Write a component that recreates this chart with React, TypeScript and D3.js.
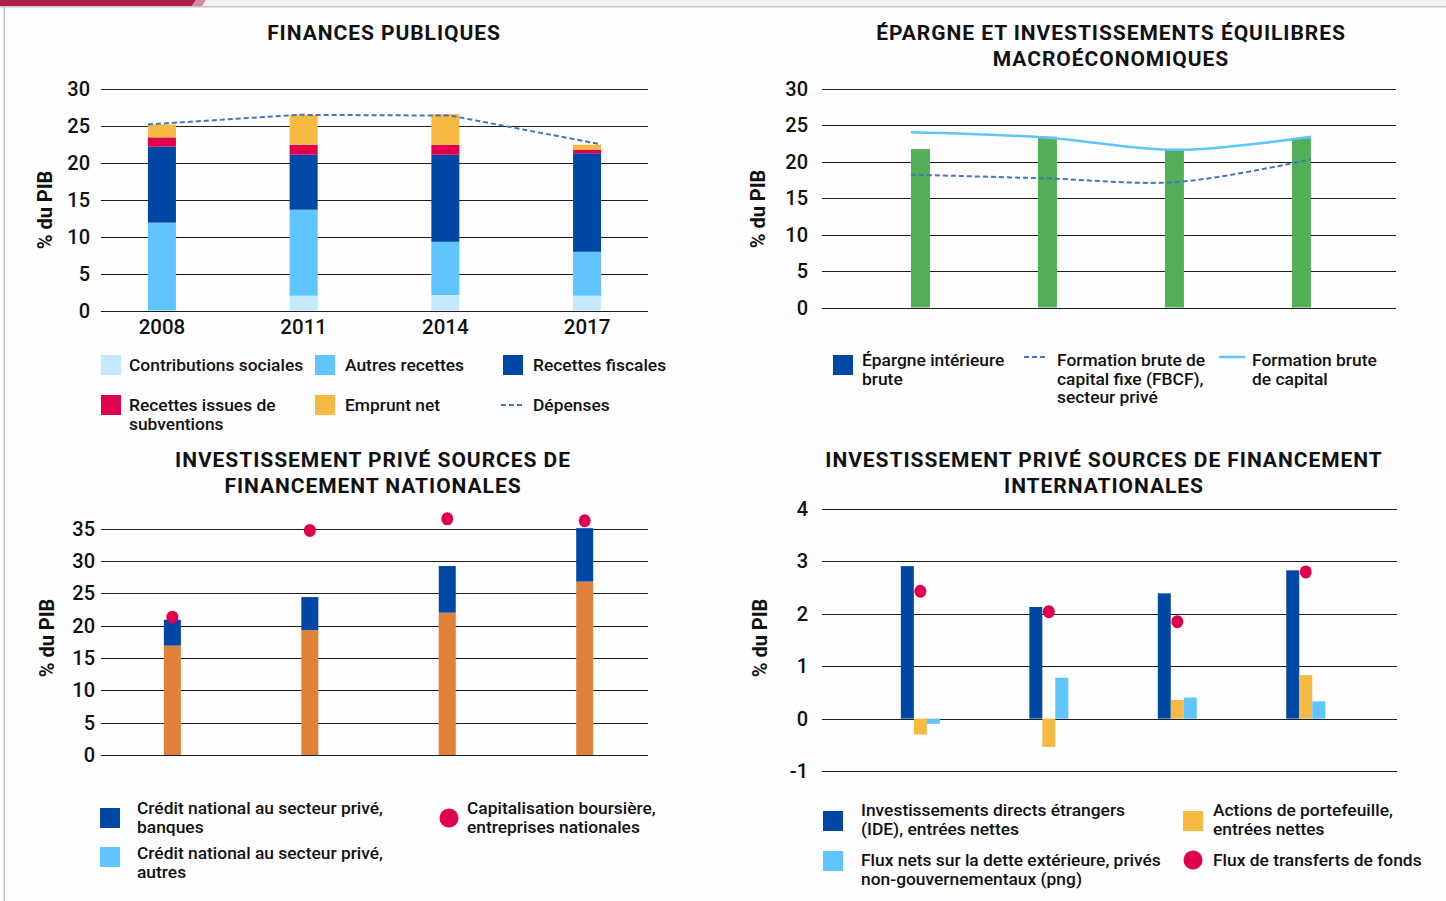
import React from 'react';
import * as d3 from 'd3';

const W = 1446;
const H = 901;
const FONT = 'Roboto, "Noto Sans", sans-serif';

// ---- Chart 1 : Finances publiques ----
const years = ['2008', '2011', '2014', '2017'];
const contributionsSociales = [0, 2.0, 2.1, 2.0];
const autresRecettes = [11.9, 11.65, 7.2, 5.95];
const recettesFiscales = [10.3, 7.45, 11.8, 13.35];
const recettesSubventions = [1.25, 1.35, 1.35, 0.5];
const empruntNet = [1.75, 4.05, 4.15, 0.65];
const depenses = [25.2, 26.5, 26.4, 22.5];
const ticks30 = [0, 5, 10, 15, 20, 25, 30];

// ---- Chart 2 : Épargne et investissements ----
const epargneInterieure = [21.7, 23.4, 21.6, 23.2];
const fbcfPrive = [18.2, 17.7, 17.2, 20.3];
const formationBruteCapital = [24.0, 23.3, 21.6, 23.4];

// ---- Chart 3 : sources nationales ----
const creditAutres = [16.9, 19.3, 22.0, 26.8];
const creditBanques = [4.0, 5.1, 7.2, 8.25];
const capitalisation = [21.3, 34.7, 36.5, 36.2];
const ticks35 = [0, 5, 10, 15, 20, 25, 30, 35];

// ---- Chart 4 : sources internationales ----
const ide = [2.91, 2.13, 2.39, 2.83];
const actionsPortefeuille = [-0.305, -0.54, 0.355, 0.83];
const fluxDette = [-0.1, 0.78, 0.4, 0.33];
const transferts = [2.43, 2.04, 1.85, 2.8];
const ticksIntl = [-1, 0, 1, 2, 3, 4];

const C = {
  contrib: '#c4e8fc',
  autres: '#60c5ff',
  fiscal: '#0047a6',
  subv: '#e0004d',
  emprunt: '#f6b942',
  dash: '#4472c4',
  green: '#53ae58',
  orange: '#e0813a',
  grid: '#1e1e1e',
  text: '#111111',
};

type LegendProps = {
  kind: 'rect' | 'dash' | 'line' | 'dot';
  color: string;
  sx: number;
  sy: number;
  tx: number;
  ty: number;
  lines: string[];
  lh?: number;
};

function Legend({ kind, color, sx, sy, tx, ty, lines, lh = 18.5 }: LegendProps) {
  let sw: React.ReactNode = null;
  if (kind === 'rect') sw = <rect x={sx} y={sy - 10} width={20} height={20} fill={color} />;
  if (kind === 'dash')
    sw = <line x1={sx} x2={sx + 23} y1={sy} y2={sy} stroke={color} strokeWidth={2} strokeDasharray="5,3" />;
  if (kind === 'line') sw = <line x1={sx} x2={sx + 26} y1={sy} y2={sy} stroke={color} strokeWidth={2.5} />;
  if (kind === 'dot') sw = <circle cx={sx} cy={sy} r={9.5} fill={color} />;
  return (
    <g>
      {sw}
      {lines.map((l, i) => (
        <text key={i} x={tx} y={ty + i * lh} dominantBaseline="central" fontSize={17.4} fontWeight={500} fill={C.text}>
          {l}
        </text>
      ))}
    </g>
  );
}

function YAxis({ ticks, y, x1, x2, lx }: { ticks: number[]; y: d3.ScaleLinear<number, number>; x1: number; x2: number; lx: number }) {
  return (
    <g>
      {ticks.map((t) => (
        <g key={t}>
          <line x1={x1} x2={x2} y1={Math.round(y(t)) + 0.5} y2={Math.round(y(t)) + 0.5} stroke={C.grid} strokeWidth={1} />
          <text x={lx} y={y(t)} textAnchor="end" dominantBaseline="central" fontSize={20} fontWeight={500} fill={C.text}>
            {t}
          </text>
        </g>
      ))}
    </g>
  );
}

function Title({ x, y, lines }: { x: number; y: number; lines: string[] }) {
  return (
    <g>
      {lines.map((l, i) => (
        <text key={i} x={x} y={y + i * 25.5} textAnchor="middle" dominantBaseline="central" fontSize={21} fontWeight={700} letterSpacing={0.95} fill={C.text}>
          {l}
        </text>
      ))}
    </g>
  );
}

function YTitle({ x, y }: { x: number; y: number }) {
  return (
    <text transform={`translate(${x},${y}) rotate(-90)`} textAnchor="middle" dominantBaseline="central" fontSize={20} fontWeight={700} fill={C.text}>
      % du PIB
    </text>
  );
}

export default function App() {
  // ---------- Chart 1 ----------
  const x1 = d3.scalePoint<string>().domain(years).range([101, 648]).padding(0.43).align(0.5);
  const y1 = d3.scaleLinear().domain([0, 30]).range([310.5, 89]);
  const bw1 = 28;
  const rows1 = years.map((yr, i) => ({
    year: yr,
    contrib: contributionsSociales[i],
    autres: autresRecettes[i],
    fiscal: recettesFiscales[i],
    subv: recettesSubventions[i],
    emprunt: empruntNet[i],
  }));
  const keys1 = ['contrib', 'autres', 'fiscal', 'subv', 'emprunt'] as const;
  const stack1 = d3.stack<any>().keys(keys1 as any)(rows1);
  const lx1 = d3
    .scalePoint<string>()
    .domain(years)
    .range([(x1(years[0]) as number) - bw1 / 2, (x1(years[3]) as number) + bw1 / 2]);
  const depLine = d3
    .line<number>()
    .x((_, i) => lx1(years[i]) as number)
    .y((d) => y1(d))(depenses);

  // ---------- Chart 2 ----------
  const x2 = d3.scalePoint<string>().domain(years).range([822, 1396]).padding(0.76).align(0.51);
  const y2 = d3.scaleLinear().domain([0, 30]).range([307.5, 88.5]);
  const bw2 = 19;
  const lx2 = d3
    .scalePoint<string>()
    .domain(years)
    .range([(x2(years[0]) as number) - bw2 / 2, (x2(years[3]) as number) + bw2 / 2]);
  const mkLine2 = (arr: number[]) =>
    d3
      .line<number>()
      .x((_, i) => lx2(years[i]) as number)
      .y((d) => y2(d))
      .curve(d3.curveCatmullRom.alpha(0.5))(arr);

  // ---------- Chart 3 ----------
  const x3 = d3.scalePoint<string>().domain(years).range([101, 648]).padding(0.49).align(0.53);
  const y3 = d3.scaleLinear().domain([0, 35]).range([755, 528.5]);
  const bw3 = 17;
  const rows3 = years.map((yr, i) => ({ year: yr, autres: creditAutres[i], banques: creditBanques[i] }));
  const stack3 = d3.stack<any>().keys(['autres', 'banques'])(rows3);
  const col3: Record<string, string> = { autres: C.orange, banques: C.fiscal };

  // ---------- Chart 4 ----------
  const x4 = d3.scalePoint<string>().domain(years).range([821.5, 1397]).padding(0.74).align(0.52);
  const y4 = d3.scaleLinear().domain([-1, 4]).range([771, 509]);
  const series4 = [
    { key: 'ide', vals: ide, color: C.fiscal },
    { key: 'actions', vals: actionsPortefeuille, color: C.emprunt },
    { key: 'dette', vals: fluxDette, color: C.autres },
  ];
  const inner4 = d3.scaleBand<string>().domain(series4.map((s) => s.key)).range([-19.5, 19.5]);

  const col1: Record<string, string> = {
    contrib: C.contrib,
    autres: C.autres,
    fiscal: C.fiscal,
    subv: C.subv,
    emprunt: C.emprunt,
  };

  return (
    <svg width={W} height={H} style={{ position: 'absolute', left: 0, top: 0, fontFamily: FONT }}>
      <rect x={0} y={0} width={W} height={H} fill="#fdfdfd" />
      {/* top decoration */}
      <rect x={0} y={0} width={W} height={6} fill="#f1f1f1" />
      <polygon points="0,0 196,0 192,6 0,6" fill="#b01e48" />
      <polygon points="196,0 206,0 202,6 192,6" fill="#d98aa0" />
      <rect x={0} y={6} width={W} height={1.5} fill="#c2c6ca" />
      <rect x={3.5} y={6} width={1.5} height={H} fill="#c2c6ca" />

      {/* ================= Chart 1 ================= */}
      <Title x={384} y={33} lines={['FINANCES PUBLIQUES']} />
      <YAxis ticks={ticks30} y={y1} x1={101} x2={648} lx={90} />
      <YTitle x={45} y={210} />
      {stack1.map((layer) => (
        <g key={layer.key}>
          {layer.map((d, i) => (
            <rect
              key={i}
              x={(x1(years[i]) as number) - bw1 / 2}
              y={y1(d[1])}
              width={bw1}
              height={Math.max(0, y1(d[0]) - y1(d[1]))}
              fill={col1[layer.key as string]}
            />
          ))}
        </g>
      ))}
      <path d={depLine || ''} fill="none" stroke={C.dash} strokeWidth={2} strokeDasharray="5,3" />
      {years.map((yr) => (
        <text key={yr} x={x1(yr)} y={327} textAnchor="middle" dominantBaseline="central" fontSize={20.5} fontWeight={500} fill={C.text}>
          {yr}
        </text>
      ))}
      <Legend kind="rect" color={C.contrib} sx={101} sy={365} tx={129} ty={365} lines={['Contributions sociales']} />
      <Legend kind="rect" color={C.autres} sx={315} sy={365} tx={345} ty={365} lines={['Autres recettes']} />
      <Legend kind="rect" color={C.fiscal} sx={503} sy={365} tx={533} ty={365} lines={['Recettes fiscales']} />
      <Legend kind="rect" color={C.subv} sx={101} sy={405} tx={129} ty={405} lines={['Recettes issues de', 'subventions']} />
      <Legend kind="rect" color={C.emprunt} sx={315} sy={405} tx={345} ty={405} lines={['Emprunt net']} />
      <Legend kind="dash" color={C.dash} sx={501} sy={405} tx={533} ty={405} lines={['Dépenses']} />

      {/* ================= Chart 2 ================= */}
      <Title x={1111} y={33} lines={['ÉPARGNE ET INVESTISSEMENTS ÉQUILIBRES', 'MACROÉCONOMIQUES']} />
      <YAxis ticks={ticks30} y={y2} x1={822} x2={1396} lx={808} />
      <YTitle x={758} y={209} />
      {epargneInterieure.map((v, i) => (
        <rect key={i} x={(x2(years[i]) as number) - bw2 / 2} y={y2(v)} width={bw2} height={y2(0) - y2(v)} fill={C.green} />
      ))}
      <path d={mkLine2(formationBruteCapital) || ''} fill="none" stroke={C.autres} strokeWidth={2.5} />
      <path d={mkLine2(fbcfPrive) || ''} fill="none" stroke={C.dash} strokeWidth={2} strokeDasharray="5,3" />
      <Legend kind="rect" color={C.fiscal} sx={833} sy={365} tx={862} ty={360} lines={['Épargne intérieure', 'brute']} />
      <Legend kind="dash" color={C.dash} sx={1024} sy={357} tx={1057} ty={360} lines={['Formation brute de', 'capital fixe (FBCF),', 'secteur privé']} />
      <Legend kind="line" color={C.autres} sx={1219} sy={357} tx={1252} ty={360} lines={['Formation brute', 'de capital']} />

      {/* ================= Chart 3 ================= */}
      <Title x={373} y={460} lines={['INVESTISSEMENT PRIVÉ SOURCES DE', 'FINANCEMENT NATIONALES']} />
      <YAxis ticks={ticks35} y={y3} x1={101} x2={648} lx={95} />
      <YTitle x={47} y={638} />
      {stack3.map((layer) => (
        <g key={layer.key}>
          {layer.map((d, i) => (
            <rect
              key={i}
              x={(x3(years[i]) as number) - bw3 / 2}
              y={y3(d[1])}
              width={bw3}
              height={Math.max(0, y3(d[0]) - y3(d[1]))}
              fill={col3[layer.key as string]}
            />
          ))}
        </g>
      ))}
      {capitalisation.map((v, i) => (
        <ellipse key={i} cx={x3(years[i]) as number} cy={y3(v)} rx={6} ry={6.5} fill={C.subv} />
      ))}
      <Legend kind="rect" color={C.fiscal} sx={100} sy={818} tx={137} ty={808} lines={['Crédit national au secteur privé,', 'banques']} lh={19} />
      <Legend kind="rect" color={C.autres} sx={100} sy={857} tx={137} ty={853} lines={['Crédit national au secteur privé,', 'autres']} lh={19} />
      <Legend kind="dot" color={C.subv} sx={449} sy={818} tx={467} ty={808} lines={['Capitalisation boursière,', 'entreprises nationales']} lh={19} />

      {/* ================= Chart 4 ================= */}
      <Title x={1104} y={460} lines={['INVESTISSEMENT PRIVÉ SOURCES DE FINANCEMENT', 'INTERNATIONALES']} />
      <YAxis ticks={ticksIntl} y={y4} x1={822} x2={1397} lx={808} />
      <YTitle x={760} y={638} />
      {series4.map((s) => (
        <g key={s.key}>
          {s.vals.map((v, i) => {
            const gx = x4(years[i]) as number;
            return (
              <rect
                key={i}
                x={gx + (inner4(s.key) as number)}
                y={Math.min(y4(0), y4(v))}
                width={inner4.bandwidth()}
                height={Math.abs(y4(v) - y4(0))}
                fill={s.color}
              />
            );
          })}
        </g>
      ))}
      {transferts.map((v, i) => (
        <ellipse
          key={i}
          cx={(x4(years[i]) as number) + (inner4('actions') as number) + inner4.bandwidth() / 2}
          cy={y4(v)}
          rx={6}
          ry={6.5}
          fill={C.subv}
        />
      ))}
      <Legend kind="rect" color={C.fiscal} sx={823} sy={821} tx={861} ty={810} lines={['Investissements directs étrangers', '(IDE), entrées nettes']} />
      <Legend kind="rect" color={C.autres} sx={823} sy={861} tx={861} ty={860} lines={['Flux nets sur la dette extérieure, privés', 'non-gouvernementaux (png)']} />
      <Legend kind="rect" color={C.emprunt} sx={1183} sy={821} tx={1213} ty={810} lines={['Actions de portefeuille,', 'entrées nettes']} />
      <Legend kind="dot" color={C.subv} sx={1193} sy={860} tx={1213} ty={860} lines={['Flux de transferts de fonds']} />
    </svg>
  );
}
